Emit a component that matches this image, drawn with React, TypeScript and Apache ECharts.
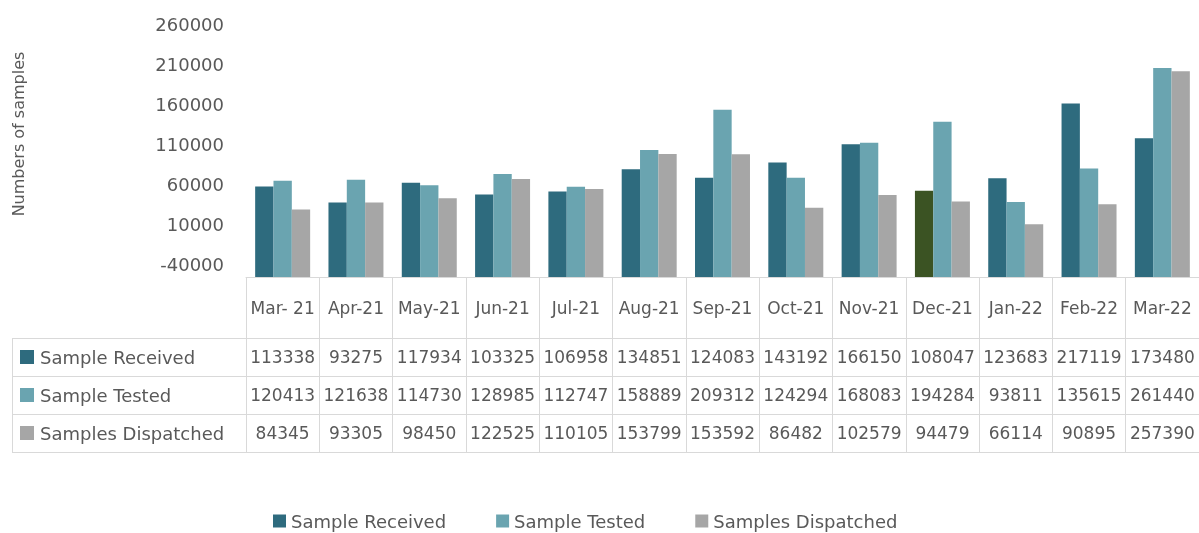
import React, { useEffect, useRef } from "react";
import * as echarts from "echarts";

const months = ["Mar- 21", "Apr-21", "May-21", "Jun-21", "Jul-21", "Aug-21", "Sep-21", "Oct-21", "Nov-21", "Dec-21", "Jan-22", "Feb-22", "Mar-22"];
const received = [113338, 93275, 117934, 103325, 106958, 134851, 124083, 143192, 166150, 108047, 123683, 217119, 173480];
const tested = [120413, 121638, 114730, 128985, 112747, 158889, 209312, 124294, 168083, 194284, 93811, 135615, 261440];
const dispatched = [84345, 93305, 98450, 122525, 110105, 153799, 153592, 86482, 102579, 94479, 66114, 90895, 257390];
const seriesNames = ["Sample Received", "Sample Tested", "Samples Dispatched"];
const yTicks = [-40000, 10000, 60000, 110000, 160000, 210000, 260000];
const yLabelOffset = 56000; // the printed axis labels sit this far below the bar values
const highlightMonth = "Dec-21";

const colors = ["#2e6b7e", "#6aa4b0", "#a6a6a6"];
const highlightColor = "#3b5323";
const textColor = "#595959";
const lineColor = "#d9d9d9";
const font = "DejaVu Sans";

export default function App() {
  const ref = useRef<HTMLDivElement>(null);
  useEffect(() => {
    if (!ref.current) return;
    const chart = echarts.init(ref.current, undefined, { renderer: "svg" });
    const seriesData = [received, tested, dispatched];
    const gridTop = 10;
    const gridBottomY = 277;
    const pxPerUnit = 1 / 1251;
    const barMax = Math.round((gridBottomY - gridTop) / pxPerUnit);
    const rowTop = 338;
    const rowH = 38;
    const tableLeft = 12;
    const colLeft = 246;

    const graphic: any[] = [];
    for (let i = 0; i <= seriesNames.length; i++) {
      const y = rowTop + rowH * i + 0.5;
      graphic.push({ type: "line", shape: { x1: tableLeft, y1: y, x2: colLeft, y2: y }, style: { stroke: lineColor, lineWidth: 1 } });
    }
    graphic.push({ type: "line", shape: { x1: tableLeft + 0.5, y1: rowTop, x2: tableLeft + 0.5, y2: rowTop + rowH * seriesNames.length }, style: { stroke: lineColor, lineWidth: 1 } });
    seriesNames.forEach((name, i) => {
      const cy = rowTop + rowH * i + rowH / 2;
      graphic.push({ type: "rect", shape: { x: 20, y: cy - 7, width: 14, height: 14 }, style: { fill: colors[i] } });
      graphic.push({ type: "text", x: 40, y: cy, style: { text: name, fill: textColor, fontSize: 18, fontFamily: font, verticalAlign: "middle", align: "left" } });
    });
    graphic.push({
      type: "text", x: 18, y: 134, rotation: Math.PI / 2,
      style: { text: "Numbers of samples", fill: textColor, fontSize: 16, fontFamily: font, align: "center", verticalAlign: "middle" },
    });

    const tableAxis = (offset: number, data: number[] | null, margin: number) => ({
      type: "category",
      data: months,
      position: "bottom",
      offset,
      gridIndex: 0,
      axisLine: { show: true, onZero: false, lineStyle: { color: lineColor, width: 1 } },
      axisTick: { show: false },
      axisLabel: {
        show: data !== null,
        interval: 0,
        margin,
        color: textColor,
        fontSize: 17,
        fontFamily: font,
        formatter: (_v: string, idx: number) => (data ? String(data[idx]) : ""),
      },
      splitLine: { show: false },
    });

    chart.setOption({
      animation: false,
      textStyle: { fontFamily: font },
      grid: { left: colLeft, right: -2, top: gridTop, bottom: 533 - gridBottomY, containLabel: false },
      legend: {
        data: seriesNames,
        left: 268,
        top: 507,
        icon: "rect",
        itemWidth: 13,
        itemHeight: 13,
        itemGap: 50,
        textStyle: { color: textColor, fontSize: 18, fontFamily: font },
      },
      xAxis: [
        {
          type: "category",
          data: months,
          position: "bottom",
          axisLine: { show: true, onZero: false, lineStyle: { color: lineColor, width: 1 } },
          axisTick: { show: true, length: 175, lineStyle: { color: lineColor, width: 1 } },
          axisLabel: { interval: 0, margin: 22, color: textColor, fontSize: 17, fontFamily: font },
          splitLine: { show: false },
        },
        tableAxis(61, received, 10),
        tableAxis(99, tested, 10),
        tableAxis(137, dispatched, 10),
        tableAxis(175, null, 10),
      ],
      yAxis: [
        { type: "value", min: 0, max: barMax, show: false, splitLine: { show: false } },
        {
          type: "value",
          position: "left",
          min: -yLabelOffset,
          max: barMax - yLabelOffset,
          axisLine: { show: false },
          axisTick: { show: false },
          splitLine: { show: false },
          axisLabel: { customValues: yTicks, margin: 22, color: textColor, fontSize: 18, fontFamily: font, formatter: (v: number) => String(v) },
        },
      ],
      series: seriesNames.map((name, i) => ({
        name,
        type: "bar",
        xAxisIndex: 0,
        yAxisIndex: 0,
        barGap: "0%",
        barCategoryGap: "25%",
        itemStyle: { color: colors[i] },
        data: seriesData[i].map((v, j) =>
          i === 0 && months[j] === highlightMonth ? { value: v, itemStyle: { color: highlightColor } } : v
        ),
      })),
      graphic,
    });
    return () => chart.dispose();
  }, []);
  return <div ref={ref} style={{ position: "fixed", left: 0, top: 0, width: 1199, height: 533 }} />;
}
